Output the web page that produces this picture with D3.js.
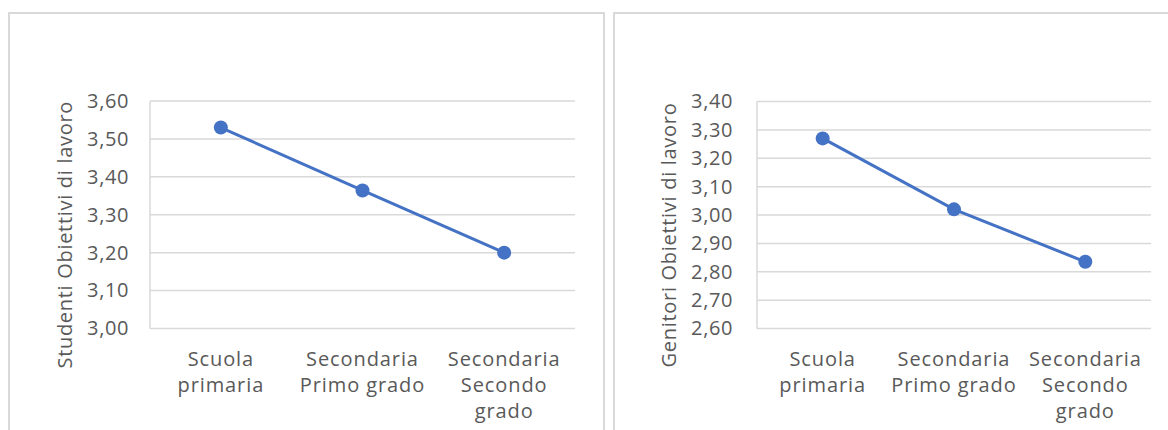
<!DOCTYPE html>
<html>
<head>
<meta charset="utf-8">
<script src="https://cdn.jsdelivr.net/npm/d3@7"></script>
<style>
  html, body { margin: 0; padding: 0; background: #fff; }
  svg { display: block; }
  text { font-family: "Open Sans", "Noto Sans", sans-serif; fill: #595959; }
</style>
</head>
<body>
<svg id="chart" width="1168" height="430"></svg>
<script>
// School levels on the x axis (each label split into lines)
const categories = ["Scuola primaria", "Secondaria Primo grado", "Secondaria Secondo grado"];
const categoryLines = [["Scuola", "primaria"], ["Secondaria", "Primo grado"], ["Secondaria", "Secondo", "grado"]];

// Mean scores "Obiettivi di lavoro"
const studentiValues = [3.53, 3.364, 3.20];
const genitoriValues = [3.27, 3.02, 2.835];

// Y tick values for each panel
const studentiTicks = [3.00, 3.10, 3.20, 3.30, 3.40, 3.50, 3.60];
const genitoriTicks = [2.60, 2.70, 2.80, 2.90, 3.00, 3.10, 3.20, 3.30, 3.40];

const svg = d3.select("#chart");
const fmt = v => d3.format(".2f")(v).replace(".", ",");

function drawPanel(cfg) {
  const g = svg.append("g");

  // panel frame
  g.append("rect")
    .attr("x", cfg.frame[0]).attr("y", cfg.frame[1])
    .attr("width", cfg.frame[2]).attr("height", cfg.frame[3])
    .attr("fill", "#fff").attr("stroke", "#d9d9d9").attr("stroke-width", 2);

  const x = d3.scaleBand().domain(categories).range([cfg.left, cfg.right]);
  const y = d3.scaleLinear().domain(d3.extent(cfg.ticks)).range([cfg.bottom, cfg.top]);

  // horizontal gridlines
  g.append("g").selectAll("line").data(cfg.ticks).join("line")
    .attr("x1", cfg.left).attr("x2", cfg.right)
    .attr("y1", d => y(d)).attr("y2", d => y(d))
    .attr("stroke", "#d9d9d9").attr("stroke-width", 1.5);

  // y axis line
  g.append("line")
    .attr("x1", cfg.left).attr("x2", cfg.left)
    .attr("y1", cfg.top).attr("y2", cfg.bottom)
    .attr("stroke", "#d9d9d9").attr("stroke-width", 1.5);

  // y tick labels
  const yAxis = d3.axisLeft(y).tickValues(cfg.ticks).tickFormat(fmt).tickSize(0).tickPadding(cfg.left - cfg.labelRight);
  const ya = g.append("g").attr("transform", `translate(${cfg.left},0)`).call(yAxis);
  ya.select(".domain").remove();
  ya.selectAll("text")
    .style("font-family", '"Open Sans", sans-serif')
    .style("font-size", "20px")
    .style("letter-spacing", "0.6px")
    .attr("fill", "#595959");

  // x category labels
  const xl = g.append("g").selectAll("text").data(categories).join("text")
    .attr("text-anchor", "middle")
    .attr("x", d => x(d) + x.bandwidth() / 2)
    .attr("y", cfg.bottom + 37)
    .style("font-size", "20px")
    .style("letter-spacing", "0.9px");
  xl.each(function(d, i) {
    d3.select(this).selectAll("tspan").data(categoryLines[i]).join("tspan")
      .attr("x", x(d) + x.bandwidth() / 2)
      .attr("dy", (t, j) => j === 0 ? 0 : 26)
      .text(t => t);
  });

  // y axis title
  g.append("text")
    .attr("transform", `translate(${cfg.titleX},${(cfg.top + cfg.bottom) / 2 + 20}) rotate(-90)`)
    .attr("text-anchor", "middle")
    .style("font-size", "20px")
    .style("letter-spacing", "0.7px")
    .text(cfg.title);

  // series line and markers
  const line = d3.line()
    .x((d, i) => x(categories[i]) + x.bandwidth() / 2)
    .y(d => y(d));
  g.append("path").datum(cfg.values)
    .attr("d", line).attr("fill", "none")
    .attr("stroke", "#4472c4").attr("stroke-width", 3);
  g.append("g").selectAll("circle").data(cfg.values).join("circle")
    .attr("cx", (d, i) => x(categories[i]) + x.bandwidth() / 2)
    .attr("cy", d => y(d))
    .attr("r", 7)
    .attr("fill", "#4472c4");
}

drawPanel({
  frame: [9, 13, 595, 440],
  left: 150, right: 575, top: 101, bottom: 328.5,
  labelRight: 129, titleX: 72,
  ticks: studentiTicks, values: studentiValues,
  title: "Studenti Obiettivi di lavoro"
});

drawPanel({
  frame: [614, 13, 600, 440],
  left: 757, right: 1151, top: 101.5, bottom: 328.5,
  labelRight: 733, titleX: 676,
  ticks: genitoriTicks, values: genitoriValues,
  title: "Genitori Obiettivi di lavoro"
});
</script>
</body>
</html>
